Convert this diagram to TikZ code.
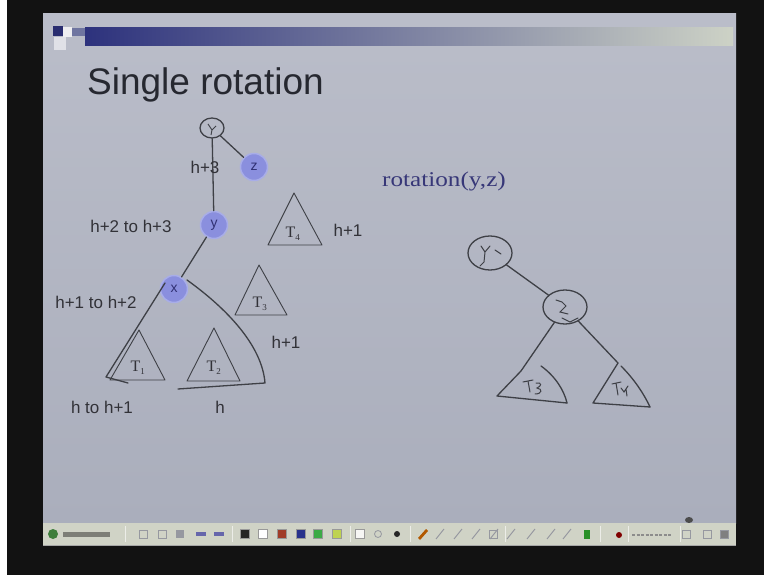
\documentclass[tikz,border=0pt]{standalone}
\usepackage{fontspec}
\setmainfont{Liberation Sans}
\newfontfamily\seriffont{Liberation Serif}
\usetikzlibrary{shapes.geometric}
\definecolor{slidetop}{RGB}{186,189,201}
\definecolor{slidebot}{RGB}{170,174,188}
\definecolor{barA}{RGB}{45,50,125}
\definecolor{barB}{RGB}{140,145,175}
\definecolor{barC}{RGB}{205,210,198}
\definecolor{titlec}{RGB}{38,40,48}
\definecolor{ink}{RGB}{62,64,70}
\definecolor{txt}{RGB}{50,50,56}
\definecolor{nodefill}{RGB}{138,143,222}
\definecolor{noderim}{RGB}{168,173,232}
\definecolor{nodetxt}{RGB}{48,48,115}
\definecolor{rotc}{RGB}{55,55,120}
\definecolor{tool}{RGB}{208,211,198}
\definecolor{toolicon}{RGB}{150,152,160}
\tikzset{
  lbl/.style={font=\fontsize{17}{19}\selectfont, text=txt, inner sep=0pt},
  bnode/.style={circle, fill=nodefill, draw=noderim, line width=1.5pt, minimum size=27pt, inner sep=0pt, font=\fontsize{14}{14}\selectfont, text=nodetxt},
  hand/.style={draw=ink, line width=1.3pt, line cap=round, line join=round},
  tri/.style={draw=ink, line width=0.9pt, line join=round},
  tlabel/.style={font=\seriffont\fontsize{16}{16}\selectfont, text=txt, inner sep=0pt},
  handcirc/.style={ellipse, draw=ink, line width=1.3pt, inner sep=0pt},
  swatch/.style={minimum size=9pt, inner sep=0pt, draw=black!40, line width=0.3pt},
  ticon/.style={minimum size=8pt, inner sep=0pt, draw=toolicon, line width=0.8pt}
}
\begin{document}
\begin{tikzpicture}[x=1pt,y=-1pt]
\useasboundingbox (0,0) rectangle (764,575);
% frame and slide
\fill[black!93] (0,0) rectangle (764,575);
\fill[white] (0,0) rectangle (7,575);
\shade[top color=slidetop,bottom color=slidebot] (43,14) rectangle (736,523);
% title bar
\shade[left color=barA, middle color=barB, right color=barC] (85,28) rectangle (733,46);
\fill[barA!90!black] (53,26) rectangle (63,36);
\fill[white!75!slidetop] (63,27) rectangle (72,37);
\fill[white!55!slidetop] (54,37) rectangle (66,50);
\fill[barB!70!barA] (72,28) rectangle (85,36);
\node[anchor=base west, inner sep=0pt, text=titlec, font=\fontsize{37}{40}\selectfont] (title) at (87,95) {Single rotation};

% left tree
\node[handcirc, minimum width=24pt, minimum height=20pt] (r) at (212,128) {};
\draw[ink, line width=0.9pt] (208,124) -- (212,130) -- (216,126) (212,130) -- (211,135);
\node[bnode] (z) at (254,167) {z};
\node[bnode] (y) at (214,225) {y};
\node[bnode] (x) at (174,289) {x};
\draw[hand] (r) -- (y);
\draw[hand] (r) -- (z);
\draw[hand] (y) -- (x);

\node[lbl] (l1) at (205,167) {h+3};
\node[lbl] (l2) at (131,226) {h+2 to h+3};
\node[lbl] (l3) at (96,302) {h+1 to h+2};
\node[lbl] (l4) at (102,407) {h to h+1};
\node[lbl] (l5) at (220,407) {h};
\node[lbl] (l6) at (286,342) {h+1};
\node[lbl] (l7) at (348,230) {h+1};

% subtree triangles
\draw[tri] (294,193) -- (268,245) -- (322,245) -- cycle;
\node[tlabel] (t4) at (293,234) {T\textsubscript{\fontsize{9}{9}\selectfont 4}};
\draw[tri] (259,265) -- (235,315) -- (287,315) -- cycle;
\node[tlabel] (t3) at (260,304) {T\textsubscript{\fontsize{9}{9}\selectfont 3}};
\draw[tri] (139,330) -- (110,380) -- (165,380) -- cycle;
\node[tlabel] (t1) at (138,368) {T\textsubscript{\fontsize{9}{9}\selectfont 1}};
\draw[tri] (214,328) -- (187,381) -- (240,381) -- cycle;
\node[tlabel] (t2) at (214,368) {T\textsubscript{\fontsize{9}{9}\selectfont 2}};

% hand-drawn big triangle around x subtree
\draw[hand] (165,283) -- (106,377) -- (128,383);
\draw[hand] (187,280) .. controls (226,308) and (262,345) .. (265,383) -- (178,389);

% right side
\node[text=rotc, inner sep=0pt, font=\seriffont\fontsize{21}{21}\selectfont] (rot) at (444,181) {\scalebox{1.2}[1]{rotation(y,z)}};

\node[handcirc, minimum width=44pt, minimum height=34pt] (ry) at (490,253) {};
\draw[ink, line width=1pt, line cap=round] (481,246) -- (485,252) -- (490,246) (485,252) -- (484,262) (484,262) -- (480,266) (495,250) -- (501,254);
\node[handcirc, minimum width=44pt, minimum height=34pt] (rz) at (565,307) {};
\draw[ink, line width=1pt, line cap=round] (556,300) -- (562,302) -- (566,306) -- (560,312) -- (568,314) (562,318) -- (570,322) -- (578,318);
\coordinate (a3) at (521,371);
\coordinate (a4) at (618,363);
\draw[hand] (ry) -- (rz);
\draw[hand] (rz) -- (a3);
\draw[hand] (rz) -- (a4);
% left hand triangle
\draw[hand] (a3) -- (497,396) -- (567,403);
\draw[hand] (541,366) .. controls (555,376) and (564,390) .. (567,403);
\draw[ink, line width=1pt, line cap=round] (523,382) -- (533,380) (528,381) -- (530,392) (536,383) .. controls (542,382) and (542,386) .. (537,388) .. controls (543,389) and (542,394) .. (535,394);
% right hand triangle
\draw[hand] (a4) -- (593,403) -- (650,407);
\draw[hand] (621,366) .. controls (633,378) and (643,392) .. (650,407);
\draw[ink, line width=1pt, line cap=round] (612,384) -- (621,382) (616,383) -- (618,395) (621,388) -- (624,392) -- (628,386) (626,389) -- (627,396);

% cursor mark
\fill[black!70] (689,520) ellipse (4 and 3);

% toolbar
\fill[tool] (43,523) rectangle (736,545);
\draw[black!35, line width=0.6pt] (43,545) -- (736,545);
\fill[green!35!black!70!tool] (53,534) circle (5);
\fill[black!40!tool] (63,532) rectangle (110,537);
\foreach \sx in {125,232,350,410,505,600,628,680} \draw[white!60!tool, line width=1pt] (\sx,526) -- (\sx,542);
\node[ticon] (i1) at (143,534) {};
\node[ticon] (i2) at (162,534) {};
\node[ticon, draw=none, fill=toolicon] (i3) at (180,534) {};
\fill[black!55!blue!60] (196,532) rectangle (206,536);
\fill[black!55!blue!60] (214,532) rectangle (224,536);
\node[swatch, fill=black!85] (s1) at (245,534) {};
\node[swatch, fill=white] (s2) at (263,534) {};
\node[swatch, fill={rgb,255:red,160;green,60;blue,40}] (s3) at (282,534) {};
\node[swatch, fill={rgb,255:red,40;green,50;blue,140}] (s4) at (301,534) {};
\node[swatch, fill={rgb,255:red,60;green,170;blue,70}] (s5) at (318,534) {};
\node[swatch, fill={rgb,255:red,190;green,210;blue,80}] (s6) at (337,534) {};
\node[swatch, fill=white!80!tool] (s7) at (360,534) {};
\node[ticon, circle, minimum size=7pt] (i4) at (378,534) {};
\fill[black!85] (397,534) circle (3);
\fill[orange!70!black] (418,538) -- (426,529) -- (428,531) -- (420,540) -- cycle;
\foreach \ix in {440,458,476,494,511,531,551,567} \draw[toolicon, line width=1pt] (\ix-4,539) -- (\ix+4,529);
\node[ticon] (i5) at (493,534) {};
\fill[green!50!black!80!tool] (584,530) rectangle (590,539);
\fill[red!50!black] (619,535) circle (3);
\draw[black!45, line width=1.5pt, dash pattern=on 3pt off 1.5pt] (632,535) -- (672,535);
\node[ticon] (i6) at (686,534) {};
\node[ticon] (i7) at (707,534) {};
\node[ticon, fill=black!50] (i8) at (724,534) {};
\end{tikzpicture}
\end{document}
